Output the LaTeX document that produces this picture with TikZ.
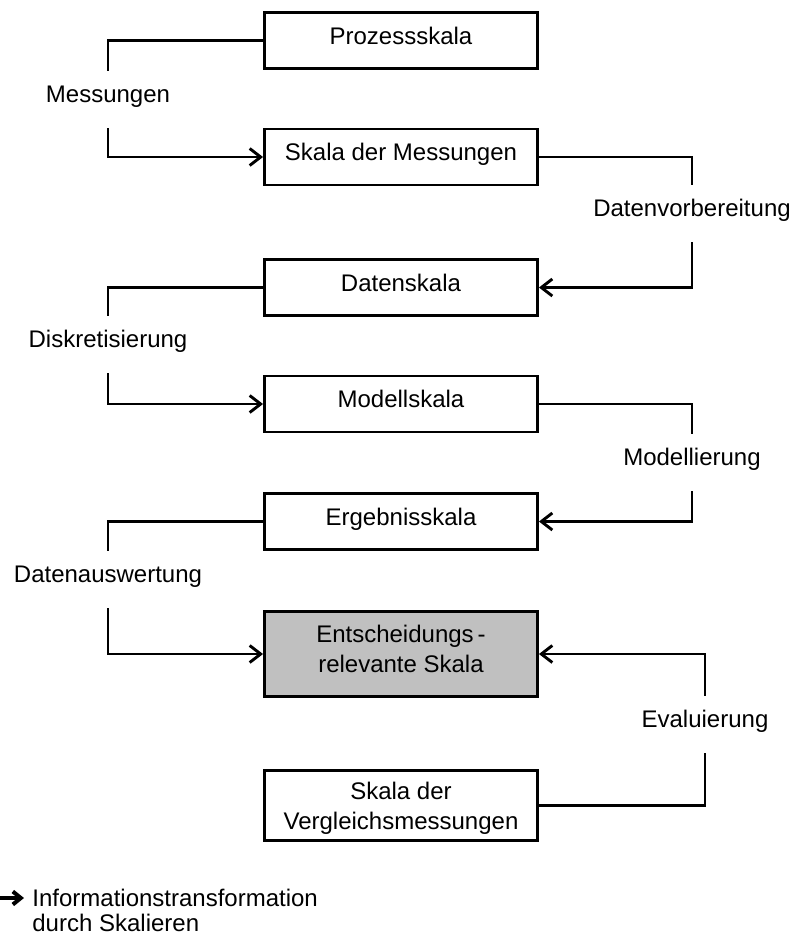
\documentclass[tikz,border=0pt]{standalone}
\usepackage{fontspec}
\setmainfont{Liberation Sans}
\usetikzlibrary{arrows.meta}
\definecolor{boxgray}{RGB}{192,192,192}
\begin{document}
\begin{tikzpicture}[x=0.5pt,y=-0.5pt,
  every node/.style={font=\fontsize{12}{15}\selectfont},
  scalebox/.style={draw, line width=1.45pt, minimum width=136.5pt, minimum height=28pt,
    inner sep=0pt},
  oneline/.style={scalebox, text height=8.7pt, text depth=5pt},
  twoline/.style={scalebox, align=center},
  stage/.style={inner xsep=0pt, inner ysep=7pt, text height=8.7pt, text depth=5.5pt},
  flow/.style={line width=1.45pt},
  arrowflow/.style={flow, -{Straight Barb[length=5.5pt,width=8.5pt]}},
]
\useasboundingbox (0,0) rectangle (790,939);

% scale levels
\node[oneline] (proc)   at (401,40.5)  {Prozessskala};
\node[oneline] (meas)   at (401,157)   {Skala der Messungen};
\node[oneline] (data)   at (401,287.5) {Datenskala};
\node[oneline] (model)  at (401,404)   {Modellskala};
\node[oneline] (result) at (401,521.5) {Ergebnisskala};
\node[twoline, fill=boxgray, minimum height=42.5pt, text depth=5pt]
  (decision) at (401,654) {Entscheidungs\,-\\relevante Skala};
\node[twoline, minimum height=35pt, text depth=0pt]
  (compare) at (401,805.5) {Skala der\\Vergleichsmessungen};

% transformation steps
\node[stage, anchor=base] (lmeas)  at (108,102.6) {Messungen};
\node[stage, anchor=base] (lprep)  at (692,216.6) {Datenvorbereitung};
\node[stage, anchor=base] (ldisc)  at (108,347.6) {Diskretisierung};
\node[stage, anchor=base] (lmodel) at (692,465.6) {Modellierung};
\node[stage, anchor=base] (lanal)  at (108,582.6) {Datenauswertung};
\node[stage, anchor=base] (leval)  at (705,727.6) {Evaluierung};

% connectors
\draw[flow] (proc.west) -| (lmeas.north);
\draw[arrowflow] (lmeas.south) |- (meas.west);
\draw[flow] (meas.east) -| (lprep.north);
\draw[arrowflow] (lprep.south) |- (data.east);
\draw[flow] (data.west) -| (ldisc.north);
\draw[arrowflow] (ldisc.south) |- (model.west);
\draw[flow] (model.east) -| (lmodel.north);
\draw[arrowflow] (lmodel.south) |- (result.east);
\draw[flow] (result.west) -| (lanal.north);
\draw[arrowflow] (lanal.south) |- (decision.west);
\draw[flow] (compare.east) -| (leval.south);
\draw[arrowflow] (leval.north) |- (decision.east);

% legend
\coordinate (keystart) at (-6,898);
\coordinate (keyend) at (24,898);
\draw[line width=2pt, -{Straight Barb[length=4pt,width=6.5pt]}] (keystart) -- (keyend);
\node[anchor=west, align=left, inner sep=0pt, font=\fontsize{12}{12.5}\selectfont]
  (key) at (32,910.4) {Informationstransformation\\durch Skalieren};
\end{tikzpicture}
\end{document}
